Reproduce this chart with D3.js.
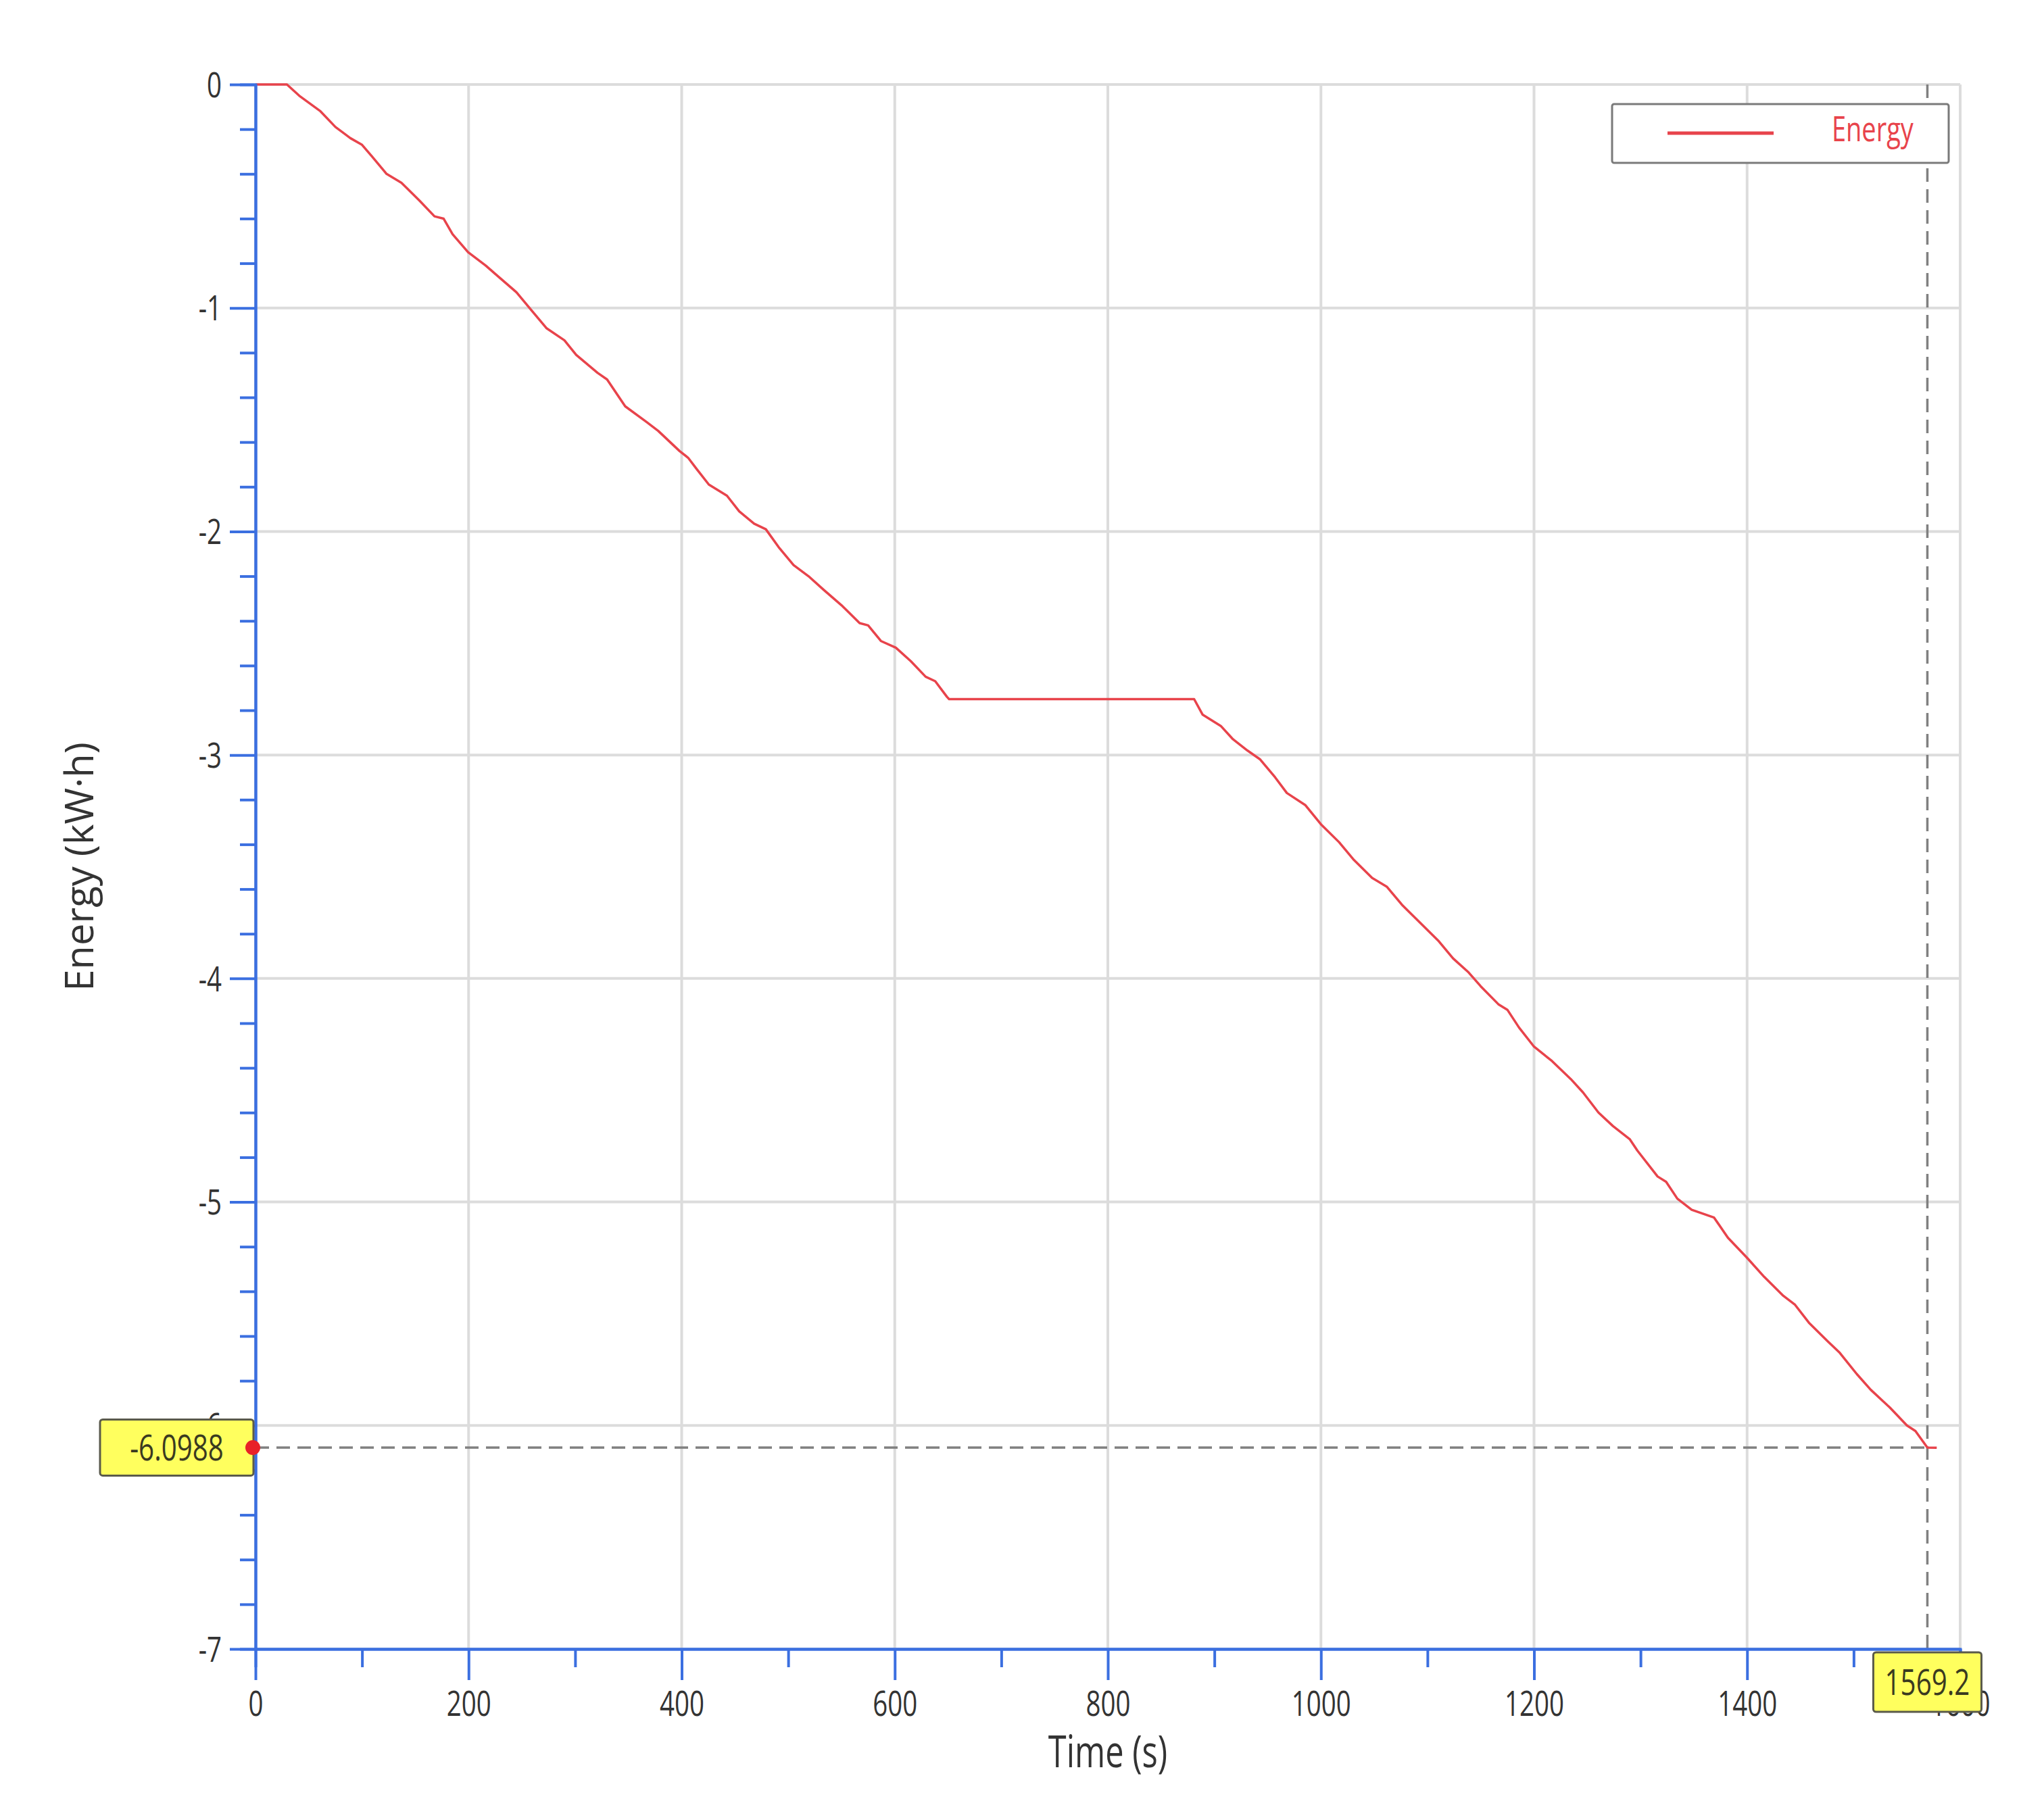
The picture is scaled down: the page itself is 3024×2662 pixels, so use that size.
<!DOCTYPE html>
<html>
<head>
<meta charset="utf-8">
<script src="https://d3js.org/d3.v7.min.js"></script>
<style>
  body { margin: 0; background: #fff; }
  text { font-family: "Open Sans", "Noto Sans", sans-serif; fill: #333; }
</style>
</head>
<body>
<div id="chart"></div>
<script>
// time (s) and energy (kW·h)
var times = [0, 29.5, 41, 61, 75, 89, 100, 109, 123, 137, 154, 168, 176.5, 185, 199.5, 216, 228, 245, 259, 273,
  290, 301, 321, 330, 347, 367, 378, 398, 406, 414, 425.5, 442.5, 454, 468, 479, 491, 505, 519, 533, 550,
  567, 575, 587, 601, 615, 629, 638, 649, 651, 881, 889, 906, 917.5, 931, 943, 957, 968, 985.5, 1000, 1017,
  1031, 1048, 1062, 1076, 1093, 1110, 1124, 1138, 1150, 1166.5, 1175, 1186, 1200, 1217, 1234.5, 1246, 1260.5, 1274, 1290, 1297,
  1316, 1324, 1334.5, 1348, 1369, 1382, 1400, 1416, 1434, 1445, 1458, 1476, 1487, 1503, 1516, 1534, 1550, 1558, 1569.2, 1578];
var energy = [0, 0, -0.05, -0.12, -0.19, -0.24, -0.27, -0.32, -0.40, -0.44, -0.52, -0.59, -0.60, -0.67, -0.75, -0.81, -0.86, -0.93, -1.01, -1.09,
  -1.145, -1.21, -1.29, -1.32, -1.44, -1.51, -1.55, -1.64, -1.67, -1.72, -1.79, -1.84, -1.91, -1.965, -1.99, -2.07, -2.15, -2.20, -2.26, -2.33,
  -2.41, -2.42, -2.49, -2.52, -2.58, -2.65, -2.67, -2.74, -2.75, -2.75, -2.82, -2.87, -2.93, -2.98, -3.02, -3.10, -3.17, -3.225, -3.31, -3.39,
  -3.47, -3.55, -3.59, -3.67, -3.75, -3.83, -3.91, -3.97, -4.035, -4.115, -4.14, -4.22, -4.305, -4.37, -4.45, -4.51, -4.60, -4.66, -4.72, -4.77,
  -4.886, -4.91, -4.985, -5.035, -5.07, -5.16, -5.25, -5.335, -5.42, -5.46, -5.54, -5.625, -5.675, -5.77, -5.84, -5.92, -6.00, -6.025, -6.0988, -6.10];

var xTicks = [0, 200, 400, 600, 800, 1000, 1200, 1400, 1600];
var xMinor = [100, 300, 500, 700, 900, 1100, 1300, 1500];
var yTicks = [0, -1, -2, -3, -4, -5, -6, -7];
var yMinor = d3.range(0, -7, -0.2).filter(function(d){ return Math.abs(d - Math.round(d)) > 0.01; });

var cursorT = 1569.2, cursorE = -6.0988;
var seriesName = "Energy";

var W = 3024, H = 2662;
var pLeft = 378, pRight = 2900, pTop = 125, pBottom = 2440;
var sx = 0.74; // the source text is squeezed sideways
var blue = "#3b6fe0", red = "#e8434b", gridCol = "#dcdcdc";

var x = d3.scaleLinear().domain([0, 1600]).range([pLeft, pRight]);
var y = d3.scaleLinear().domain([-7, 0]).range([pBottom, pTop]);

var svg = d3.select("#chart").append("svg")
  .attr("width", W).attr("height", H);

// grid
svg.append("g").selectAll("line").data(xTicks).enter().append("line")
  .attr("x1", x).attr("x2", x).attr("y1", pTop).attr("y2", pBottom)
  .style("stroke", gridCol).style("stroke-width", 4);
svg.append("g").selectAll("line").data(yTicks).enter().append("line")
  .attr("x1", pLeft).attr("x2", pRight).attr("y1", y).attr("y2", y)
  .style("stroke", gridCol).style("stroke-width", 4);

// crosshair
svg.append("line")
  .attr("x1", x(0)).attr("x2", x(cursorT)).attr("y1", y(cursorE)).attr("y2", y(cursorE))
  .style("stroke", "#808080").style("stroke-width", 3.5).style("stroke-dasharray", "20 11");
svg.append("line")
  .attr("x1", x(cursorT)).attr("x2", x(cursorT)).attr("y1", pTop).attr("y2", pBottom)
  .style("stroke", "#808080").style("stroke-width", 3.5).style("stroke-dasharray", "20 11");

// data line
var pts = times.map(function(t, i){ return [t, energy[i]]; });
var line = d3.line().x(function(d){ return x(d[0]); }).y(function(d){ return y(d[1]); });
svg.append("path").datum(pts)
  .attr("d", line)
  .style("fill", "none").style("stroke", red).style("stroke-width", 3.5)
  .style("stroke-linejoin", "round");

// axes
function styleAxis(g) {
  g.selectAll("path.domain").style("stroke", blue).style("stroke-width", 4);
  g.selectAll(".tick line").style("stroke", blue).style("stroke-width", 4);
}

var xMinorAxis = svg.append("g").attr("transform", "translate(0," + pBottom + ")")
  .call(d3.axisBottom(x).tickValues(xMinor).tickSize(27).tickFormat(""));
styleAxis(xMinorAxis);
var xAxis = svg.append("g").attr("transform", "translate(0," + pBottom + ")")
  .call(d3.axisBottom(x).tickValues(xTicks).tickSizeInner(46).tickSizeOuter(0)
    .tickFormat(function(d){ return d.toString(); }));
styleAxis(xAxis);
xAxis.selectAll(".tick text")
  .attr("y", 99).attr("dy", 0)
  .attr("transform", "scale(" + sx + ",1)")
  .style("font-size", "52px").style("fill", "#333");

var yMinorAxis = svg.append("g").attr("transform", "translate(" + pLeft + ",0)")
  .call(d3.axisLeft(y).tickValues(yMinor).tickSize(23).tickFormat(""));
styleAxis(yMinorAxis);
var yAxis = svg.append("g").attr("transform", "translate(" + pLeft + ",0)")
  .call(d3.axisLeft(y).tickValues(yTicks).tickSizeInner(38).tickSizeOuter(0)
    .tickFormat(function(d){ return d.toString(); }));
styleAxis(yAxis);
yAxis.selectAll(".tick text")
  .attr("x", -50 / sx).attr("dy", "0.35em")
  .attr("transform", "scale(" + sx + ",1)")
  .style("font-size", "52px").style("fill", "#333");

// axis titles
svg.append("g").attr("transform", "translate(" + ((pLeft + pRight) / 2) + ",2615)")
  .append("text").attr("text-anchor", "middle")
  .attr("transform", "scale(0.75,1)")
  .style("font-size", "65px")
  .text("Time (s)");
svg.append("text")
  .attr("transform", "translate(138," + ((pTop + pBottom) / 2) + ") rotate(-90)")
  .attr("text-anchor", "middle")
  .style("font-size", "58px")
  .text("Energy (kW·h)");

// legend
var lg = svg.append("g");
lg.append("rect").attr("x", 2385).attr("y", 154).attr("width", 498).attr("height", 87)
  .attr("rx", 3).style("fill", "#fff").style("stroke", "#7a7a7a").style("stroke-width", 3);
lg.append("line").attr("x1", 2467).attr("x2", 2624).attr("y1", 197).attr("y2", 197)
  .style("stroke", red).style("stroke-width", 5);
lg.append("g").attr("transform", "translate(2710,209)")
  .append("text").attr("transform", "scale(0.73,1)")
  .style("font-size", "52px").style("fill", red)
  .text(seriesName);

// cursor value boxes
function valueBox(cx, cy, w, h, label) {
  var g = svg.append("g").attr("transform", "translate(" + cx + "," + cy + ")");
  g.append("rect").attr("x", -w / 2).attr("y", -h / 2).attr("width", w).attr("height", h)
    .attr("rx", 4).style("fill", "#ffff5e").style("stroke", "#5a5a4a").style("stroke-width", 3);
  g.append("text").attr("text-anchor", "middle").attr("dy", "0.36em")
    .attr("transform", "scale(0.76,1)")
    .style("font-size", "53px").style("fill", "#3a3a20")
    .text(label);
}
valueBox((148 + x(0) - 3) / 2, y(cursorE), x(0) - 3 - 148, 83, cursorE.toString());
valueBox(x(cursorT), pBottom + 5 + 44, 160, 88, cursorT.toString());

svg.append("circle").attr("cx", x(0) - 4).attr("cy", y(cursorE)).attr("r", 11)
  .style("fill", "#e82028");
</script>
</body>
</html>
